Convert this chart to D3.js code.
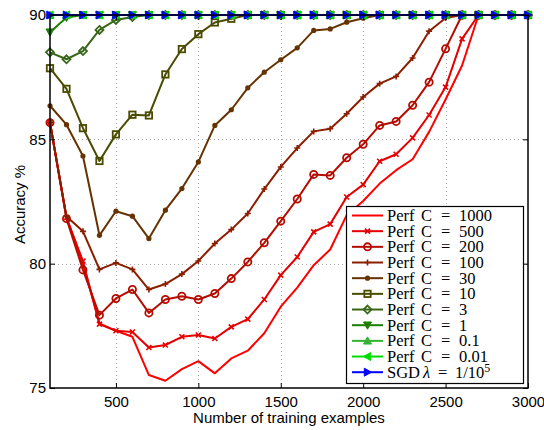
<!DOCTYPE html>
<html>
<head>
<meta charset="utf-8">
<script src="https://cdn.jsdelivr.net/npm/d3@7"></script>
<style>
  body { margin: 0; background: #fff; }
  svg { display: block; }
  .tick-label { font-family: "Liberation Sans", Arial, sans-serif; font-size: 15px; fill: #000; }
  .legend-text { font-family: "Liberation Serif", "DejaVu Serif", serif; font-size: 16.5px; fill: #000; }
</style>
</head>
<body>
<svg id="chart" width="544" height="430"></svg>
<script>
'use strict'

var xs = [100, 200, 300, 400, 500, 600, 700, 800, 900, 1000,
	1100, 1200, 1300, 1400, 1500, 1600, 1700, 1800, 1900, 2000,
	2100, 2200, 2300, 2400, 2500, 2600, 2700, 2800, 2900, 3000];

var c1000 = [85.67, 81.85, 80.0, 77.6, 77.3, 77.06, 75.52, 75.29, 75.76, 76.08,
	75.59, 76.19, 76.5, 77.2, 78.27, 79.04, 79.94, 80.57, 81.95, 82.52,
	83.22, 83.76, 84.2, 85.3, 86.6, 87.97, 90, 90, 90, 90];
var c500 = [85.67, 81.85, 80.1, 77.57, 77.3, 77.25, 76.63, 76.73, 77.06, 77.13,
	76.99, 77.46, 77.77, 78.56, 79.54, 80.27, 81.28, 81.59, 82.68, 83.18,
	84.12, 84.4, 85.06, 85.98, 87.1, 89.04, 90, 90, 90, 90];
var c200 = [85.67, 81.81, 79.75, 77.93, 78.6, 78.96, 78.02, 78.56, 78.69, 78.56,
	78.8, 79.4, 80.07, 80.84, 81.71, 82.6, 83.59, 83.55, 84.26, 84.8,
	85.56, 85.72, 86.37, 87.3, 88.64, 90, 90, 90, 90, 90];
var c100 = [85.67, 81.9, 81.3, 79.77, 80.03, 79.77, 78.96, 79.18, 79.58, 80.11,
	80.81, 81.37, 82.02, 83.0, 83.89, 84.65, 85.32, 85.43, 86.03, 86.7,
	87.24, 87.53, 88.27, 89.35, 89.88, 90, 90, 90, 90, 90];
var c30 = [86.35, 85.59, 84.33, 81.14, 82.11, 81.91, 81.01, 82.15, 83.02, 84.09,
	85.56, 86.19, 87.07, 87.7, 88.2, 88.68, 89.38, 89.44, 89.71, 89.87,
	90, 90, 90, 90, 90, 90, 90, 90, 90, 90];
var c10 = [87.86, 87.03, 85.45, 84.13, 85.2, 85.99, 85.96, 87.61, 88.63, 89.23,
	89.7, 89.85, 90, 90, 90, 90, 90, 90, 90, 90,
	90, 90, 90, 90, 90, 90, 90, 90, 90, 90];
var c3 = [88.5, 88.22, 88.55, 89.4, 89.8, 89.92, 90, 90, 90, 90,
	90, 90, 90, 90, 90, 90, 90, 90, 90, 90,
	90, 90, 90, 90, 90, 90, 90, 90, 90, 90];
var c1 = [89.31, 89.9, 90, 90, 90, 90, 90, 90, 90, 90,
	90, 90, 90, 90, 90, 90, 90, 90, 90, 90,
	90, 90, 90, 90, 90, 90, 90, 90, 90, 90];
var c01 = [90, 90, 90, 90, 90, 90, 90, 90, 90, 90,
	90, 90, 90, 90, 90, 90, 90, 90, 90, 90,
	90, 90, 90, 90, 90, 90, 90, 90, 90, 90];
var c001 = [90, 90, 90, 90, 90, 90, 90, 90, 90, 90,
	90, 90, 90, 90, 90, 90, 90, 90, 90, 90,
	90, 90, 90, 90, 90, 90, 90, 90, 90, 90];
var sgd = [90, 90, 90, 90, 90, 90, 90, 90, 90, 90,
	90, 90, 90, 90, 90, 90, 90, 90, 90, 90,
	90, 90, 90, 90, 90, 90, 90, 90, 90, 90];

var seriesLabels = ['1000', '500', '200', '100', '30', '10', '3', '1', '0.1', '0.01', 'SGD'];
var seriesValues = [c1000, c500, c200, c100, c30, c10, c3, c1, c01, c001, sgd];
var seriesColors = ['#ff0000', '#e40000', '#b40c00', '#8c1e00', '#663300',
	'#4b4b00', '#386618', '#1c7f00', '#33b233', '#00dc00', '#0000ff'];
var seriesMarkers = ['none', 'x', 'o', '+', '.', 's', 'd', 'v', '^', '<', '>'];

var xTicks = [500, 1000, 1500, 2000, 2500, 3000];
var yTicks = [75, 80, 85, 90];

var svg = d3.select('#chart');
var plotL = 50, plotR = 528, plotT = 15, plotB = 388;

var x = d3.scaleLinear().domain([100, 3000]).range([plotL, plotR]);
var y = d3.scaleLinear().domain([75, 90]).range([plotB, plotT]);

function drawMarker(g, type, cx, cy, color){
	if(type === 'none') return;
	var s;
	if(type === 'x'){
		s = 2.5;
		g.append('path').attr('d', `M${cx-s},${cy-s}L${cx+s},${cy+s}M${cx-s},${cy+s}L${cx+s},${cy-s}`)
			.attr('stroke', color).attr('stroke-width', 1.6).attr('fill', 'none');
	} else if(type === '+'){
		s = 3;
		g.append('path').attr('d', `M${cx-s},${cy}L${cx+s},${cy}M${cx},${cy-s}L${cx},${cy+s}`)
			.attr('stroke', color).attr('stroke-width', 1.6).attr('fill', 'none');
	} else if(type === 'o'){
		g.append('circle').attr('cx', cx).attr('cy', cy).attr('r', 3.6)
			.attr('stroke', color).attr('stroke-width', 1.8).attr('fill', 'none');
	} else if(type === '.'){
		g.append('circle').attr('cx', cx).attr('cy', cy).attr('r', 2.6).attr('fill', color);
	} else if(type === 's'){
		s = 3.2;
		g.append('rect').attr('x', cx-s).attr('y', cy-s).attr('width', 2*s).attr('height', 2*s)
			.attr('stroke', color).attr('stroke-width', 1.8).attr('fill', 'none');
	} else if(type === 'd'){
		s = 4;
		g.append('path').attr('d', `M${cx},${cy-s}L${cx+s},${cy}L${cx},${cy+s}L${cx-s},${cy}Z`)
			.attr('stroke', color).attr('stroke-width', 1.8).attr('fill', 'none');
	} else {
		s = 4;
		var pts;
		if(type === 'v') pts = [[cx-s, cy-s*0.8], [cx+s, cy-s*0.8], [cx, cy+s]];
		if(type === '^') pts = [[cx-s, cy+s*0.8], [cx+s, cy+s*0.8], [cx, cy-s]];
		if(type === '<') pts = [[cx+s*0.8, cy-s], [cx+s*0.8, cy+s], [cx-s, cy]];
		if(type === '>') pts = [[cx-s*0.8, cy-s], [cx-s*0.8, cy+s], [cx+s, cy]];
		g.append('path').attr('d', 'M' + pts.join('L') + 'Z')
			.attr('fill', color).attr('stroke', color).attr('stroke-width', 1).attr('stroke-linejoin', 'round');
	}
}

// grid
var grid = svg.append('g').attr('stroke', '#aaa').attr('stroke-width', 1).attr('stroke-dasharray', '1,3');
for(var t of xTicks.slice(0, -1)){
	grid.append('line').attr('x1', Math.round(x(t)) + 0.5).attr('x2', Math.round(x(t)) + 0.5).attr('y1', plotT).attr('y2', plotB);
}
for(var t of yTicks.slice(1, -1)){
	grid.append('line').attr('y1', Math.round(y(t)) + 0.5).attr('y2', Math.round(y(t)) + 0.5).attr('x1', plotL).attr('x2', plotR);
}

// lines and markers
var line = d3.line()
	.x(function(d){ return x(d[0]); })
	.y(function(d){ return y(d[1]); });

seriesValues.forEach(function(vals, i){
	var pts = xs.map(function(v, j){ return [v, vals[j]]; });
	var g = svg.append('g');
	g.append('path')
		.attr('d', line(pts))
		.attr('fill', 'none')
		.attr('stroke', seriesColors[i])
		.attr('stroke-width', 2)
		.attr('stroke-linejoin', 'round');
	pts.forEach(function(p){
		drawMarker(g, seriesMarkers[i], x(p[0]), y(p[1]), seriesColors[i]);
	});
});

// axes box and ticks
var ax = svg.append('g');
ax.append('rect').attr('x', plotL).attr('y', plotT).attr('width', plotR-plotL).attr('height', plotB-plotT)
	.attr('fill', 'none').attr('stroke', '#000').attr('stroke-width', 1.5);

var xAxis = d3.axisBottom(x).tickValues(xTicks).tickFormat(d3.format('d')).tickSize(-5).tickPadding(8);
var gx = ax.append('g').attr('transform', `translate(0,${plotB})`).call(xAxis);
gx.select('.domain').remove();
gx.selectAll('text').attr('class', 'tick-label');
gx.attr('font-size', null).attr('font-family', null);
gx.selectAll('line').attr('stroke', '#000');

var yAxis = d3.axisLeft(y).tickValues(yTicks).tickFormat(d3.format('d')).tickSize(-5).tickPadding(4);
var gy = ax.append('g').attr('transform', `translate(${plotL},0)`).call(yAxis);
gy.select('.domain').remove();
gy.selectAll('text').attr('class', 'tick-label');
gy.attr('font-size', null).attr('font-family', null);
gy.selectAll('line').attr('stroke', '#000');

var gyr = ax.append('g').attr('transform', `translate(${plotR},0)`).call(d3.axisRight(y).tickValues(yTicks).tickSize(-5).tickFormat(''));
gyr.select('.domain').remove();
gyr.selectAll('line').attr('stroke', '#000');
var gxt = ax.append('g').attr('transform', `translate(0,${plotT})`).call(d3.axisTop(x).tickValues(xTicks).tickSize(-5).tickFormat(''));
gxt.select('.domain').remove();
gxt.selectAll('line').attr('stroke', '#000');

// axis labels
svg.append('text').attr('class', 'tick-label')
	.attr('x', (plotL + plotR) / 2).attr('y', 423)
	.attr('text-anchor', 'middle')
	.text('Number of training examples');
svg.append('text').attr('class', 'tick-label')
	.attr('transform', `translate(25,${(plotT + plotB) / 2 + 3}) rotate(-90)`)
	.attr('text-anchor', 'middle')
	.text('Accuracy %');

// legend
var lg = svg.append('g');
lg.append('rect').attr('x', 346.5).attr('y', 206.5).attr('width', 177).attr('height', 177)
	.attr('fill', '#fff').attr('stroke', '#000').attr('stroke-width', 1.2);
seriesLabels.forEach(function(lab, i){
	var ly = 215.5 + i * 15.67;
	lg.append('line').attr('x1', 352).attr('x2', 383).attr('y1', ly).attr('y2', ly)
		.attr('stroke', seriesColors[i]).attr('stroke-width', 2);
	drawMarker(lg, seriesMarkers[i], 367.5, ly, seriesColors[i]);
	var txt = lg.append('text').attr('class', 'legend-text').attr('y', ly + 5.5);
	if(lab === 'SGD'){
		txt.append('tspan').attr('x', 387).text('SGD');
		txt.append('tspan').attr('x', 423).attr('font-style', 'italic').text('λ');
		txt.append('tspan').attr('x', 438).text('=');
		txt.append('tspan').attr('x', 455).text('1/10');
		txt.append('tspan').attr('font-size', '12px').attr('dy', -6).text('5');
	} else {
		txt.append('tspan').attr('x', 387).text('Perf');
		txt.append('tspan').attr('x', 421).text('C');
		txt.append('tspan').attr('x', 441).text('=');
		txt.append('tspan').attr('x', 459).text(lab);
	}
});
</script>
</body>
</html>
